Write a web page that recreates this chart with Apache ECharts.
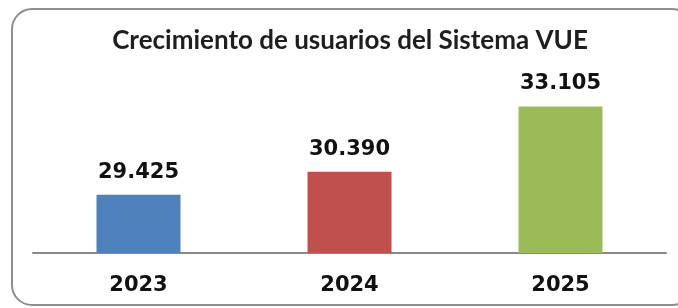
<!DOCTYPE html>
<html>
<head>
<meta charset="utf-8">
<script src="https://cdn.jsdelivr.net/npm/echarts@6/dist/echarts.min.js"></script>
<style>html,body{margin:0;padding:0;background:#fff;}#c{width:678px;height:308px;}</style>
</head>
<body>
<div id="c"></div>
<script>
const titleText = 'Crecimiento de usuarios del Sistema VUE';
const categories = ['2023', '2024', '2025'];
const values = [29425, 30390, 33105];
const barColors = ['#4f81bd', '#c0504d', '#9bbb59'];

function fmt(v) {
  return String(v).replace(/\B(?=(\d{3})+(?!\d))/g, '.');
}

const chart = echarts.init(document.getElementById('c'), null, {renderer: 'canvas'});
chart.setOption({
  animation: false,
  backgroundColor: '#ffffff',
  graphic: [{
    type: 'rect',
    shape: {x: 12, y: 9, width: 680, height: 296, r: 20},
    style: {fill: 'none', stroke: '#8e8e8e', lineWidth: 2},
    silent: true,
    z: -1
  }, {
    type: 'text',
    x: 350,
    y: 41,
    style: {
      text: titleText,
      textAlign: 'center',
      textVerticalAlign: 'middle',
      fontFamily: 'Lato',
      fontSize: 26,
      fontWeight: 'bold',
      fill: '#1e1e1e'
    },
    silent: true
  }],
  grid: {left: 33, right: 12, top: 61, bottom: 55},
  xAxis: {
    type: 'category',
    data: categories,
    axisLine: {show: true, lineStyle: {color: '#8a8a8a', width: 2}},
    axisTick: {show: false},
    axisLabel: {
      margin: 22,
      fontFamily: 'DejaVu Sans',
      fontWeight: 'bold',
      fontSize: 21,
      color: '#111111'
    }
  },
  yAxis: {
    type: 'value',
    min: 27000,
    max: 35000,
    show: false,
    splitLine: {show: false}
  },
  series: [{
    type: 'bar',
    barWidth: 84,
    data: values.map((v, i) => ({value: v, itemStyle: {color: barColors[i]}})),
    label: {
      show: true,
      position: 'top',
      distance: 12,
      formatter: p => fmt(p.value),
      fontFamily: 'DejaVu Sans',
      fontWeight: 'bold',
      fontSize: 21,
      color: '#111111'
    }
  }]
});
</script>
</body>
</html>
